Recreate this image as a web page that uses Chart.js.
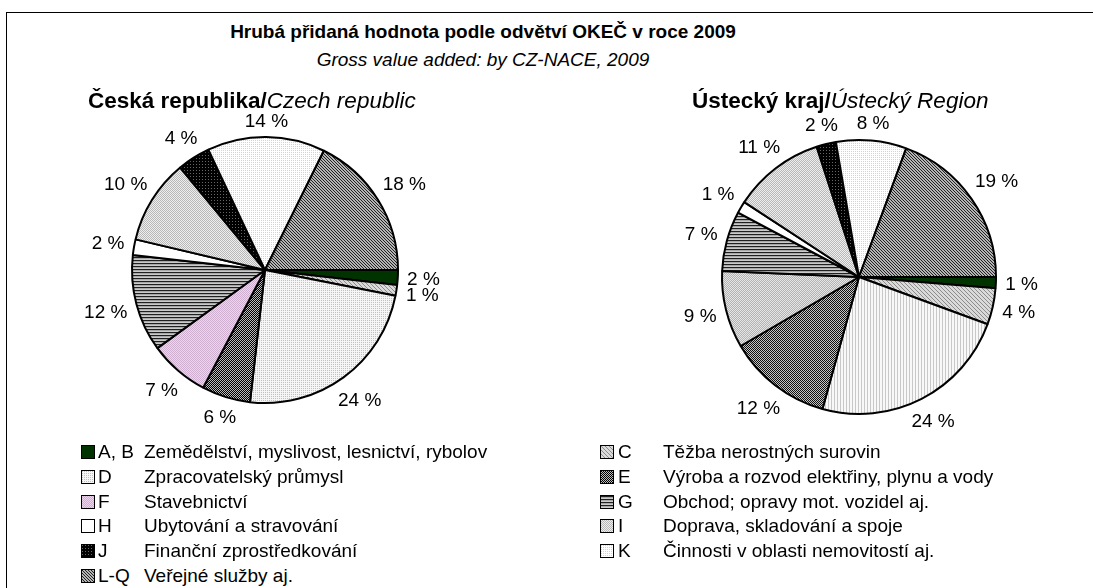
<!DOCTYPE html>
<html><head><meta charset="utf-8">
<script src="https://cdn.jsdelivr.net/npm/chart.js@4/dist/chart.umd.min.js"></script>
<style>
html,body{margin:0;padding:0;background:#fff;overflow:hidden;}
#wrap{position:relative;width:1093px;height:588px;overflow:hidden;font-family:"Liberation Sans",Arial,sans-serif;color:#000;background:#fff;}
#frame{position:absolute;left:6px;top:12px;width:1300px;height:700px;border:1px solid #000;}
.t{position:absolute;white-space:nowrap;font-size:19px;line-height:22px;}
.pt{position:absolute;white-space:nowrap;font-size:22.5px;line-height:26px;}
canvas{position:absolute;}
.sw{position:absolute;width:12px;height:12px;border:1px solid #000;}
</style></head>
<body><div id="wrap">
<div id="frame"></div>
<canvas id="pieCZ" width="420" height="380" style="left:55px;top:80px"></canvas>
<canvas id="pieUL" width="420" height="380" style="left:649px;top:87px"></canvas>
<div class="t" style="left:0;width:966px;text-align:center;top:21px;font-weight:bold">Hrubá přidaná hodnota podle odvětví OKEČ v roce 2009</div>
<div class="t" style="left:0;width:966px;text-align:center;top:49px;font-style:italic">Gross value added: by CZ-NACE, 2009</div>
<div class="pt" style="left:88px;top:88px"><b>Česká republika/</b><i>Czech republic</i></div>
<div class="pt" style="left:692px;top:88px"><b>Ústecký kraj/</b><i>Ústecký Region</i></div>
<div id="legend"></div>
</div>
<script>
// ---- data ----
const categoryCodes = ['A, B','C','D','E','F','G','H','I','J','K','L-Q'];
const categoryNames = [
  'Zemědělství, myslivost, lesnictví, rybolov',
  'Těžba nerostných surovin',
  'Zpracovatelský průmysl',
  'Výroba a rozvod elektřiny, plynu a vody',
  'Stavebnictví',
  'Obchod; opravy mot. vozidel aj.',
  'Ubytování a stravování',
  'Doprava, skladování a spoje',
  'Finanční zprostředkování',
  'Činnosti v oblasti nemovitostí aj.',
  'Veřejné služby aj.'
];
const czechRepublic = [1.8, 1.3, 23.7, 5.9, 7.3, 11.8, 1.9, 10.3, 4.0, 14.3, 17.7];
const usteckyRegion = [1.3, 4.3, 23.7, 12.3, 9.1, 7.1, 1.4, 10.8, 2.3, 8.3, 19.4];

// ---- fill patterns ----
function mk(w,h,fn){const c=document.createElement('canvas');c.width=w;c.height=h;const x=c.getContext('2d');fn(x);return c;}
function px(x,col,i,j){x.fillStyle=col;x.fillRect(i,j,1,1);}
const solid=(c)=>mk(1,1,x=>px(x,c,0,0));
const dots=(bg,fg,n)=>mk(n,n,x=>{x.fillStyle=bg;x.fillRect(0,0,n,n);px(x,fg,0,0);});
const checker=(a,b)=>mk(2,2,x=>{px(x,a,0,0);px(x,a,1,1);px(x,b,1,0);px(x,b,0,1);});
const hstripe=(rows)=>mk(1,rows.length,x=>rows.forEach((c,j)=>px(x,c,0,j)));
const vstripe=(cols)=>mk(cols.length,1,x=>cols.forEach((c,i)=>px(x,c,i,0)));
const diag=(bg,fg,n)=>mk(n,n,x=>{x.fillStyle=bg;x.fillRect(0,0,n,n);for(let i=0;i<n;i++)px(x,fg,i,i);});
const leftFills=[
  solid('#003300'),
  diag('#dadada','#8c8c8c',4),
  dots('#f6f6f6','#c0c0c0',2),
  checker('#000000','#bcbcbc'),
  checker('#eed4ee','#d0b0d0'),
  hstripe(['#202020','#a8a8a8','#cacaca']),
  solid('#ffffff'),
  checker('#eeeeee','#b8b8b8'),
  dots('#000000','#666666',3),
  dots('#ffffff','#d4d4d4',2),
  diag('#b4b4b4','#222222',3)
];
const rightFills=leftFills.slice();
rightFills[2]=vstripe(['#f8f8f8','#f8f8f8','#c8c8c8']);
rightFills[4]=checker('#e6e6e6','#b2b2b2');
rightFills[3]=checker('#111111','#c4c4c4');

// ---- outside labels plugin ----
const outsideLabels={
  id:'outsideLabels',
  afterDatasetsDraw(chart){
    const ctx=chart.ctx;const ds=chart.data.datasets[0];
    const meta=chart.getDatasetMeta(0);
    ctx.save();
    ctx.font='19px "Liberation Sans", Arial, sans-serif';
    ctx.fillStyle='#000';ctx.textAlign='center';ctx.textBaseline='middle';
    meta.data.forEach((arc,i)=>{
      const p=arc.getProps(['x','y','startAngle','endAngle','outerRadius'],true);
      const mid=(p.startAngle+p.endAngle)/2;
      const txt=Math.round(ds.data[i])+' %';
      const w=ctx.measureText(txt).width, h=14;
      const c=Math.cos(mid), s=Math.sin(mid);
      const d=p.outerRadius+9+Math.abs(c)*w/2+Math.abs(s)*h/2;
      ctx.fillText(txt,p.x+c*d,p.y+s*d+1);
    });
    ctx.restore();
  }
};

function makePie(id,values,fills,radius){
  const ctx=document.getElementById(id).getContext('2d');
  return new Chart(ctx,{
    type:'pie',
    data:{labels:categoryCodes,datasets:[{
      data:values,
      backgroundColor:fills.map(f=>ctx.createPattern(f,'repeat')),
      borderColor:'#000',borderWidth:2,radius:radius
    }]},
    options:{responsive:false,animation:false,rotation:90,
      layout:{padding:0},
      plugins:{legend:{display:false},tooltip:{enabled:false},title:{display:false}}},
    plugins:[outsideLabels]
  });
}
makePie('pieCZ',czechRepublic,leftFills,133);
makePie('pieUL',usteckyRegion,rightFills,137);

// ---- legend (two columns) ----
const lg=document.getElementById('legend');
const colX=[{sw:81,code:98,name:144},{sw:600,code:618,name:663}];
categoryCodes.forEach((code,i)=>{
  const col=colX[i%2];const row=Math.floor(i/2);
  const cy=452+row*24.8;
  const sw=document.createElement('div');sw.className='sw';
  sw.style.left=col.sw+'px';sw.style.top=(cy-7)+'px';
  sw.style.backgroundImage='url('+leftFills[i].toDataURL()+')';
  lg.appendChild(sw);
  const a=document.createElement('div');a.className='t';a.textContent=code;
  a.style.left=col.code+'px';a.style.top=(cy-11)+'px';lg.appendChild(a);
  const b=document.createElement('div');b.className='t';b.textContent=categoryNames[i];
  b.style.left=col.name+'px';b.style.top=(cy-11)+'px';lg.appendChild(b);
});
</script>
</body></html>
